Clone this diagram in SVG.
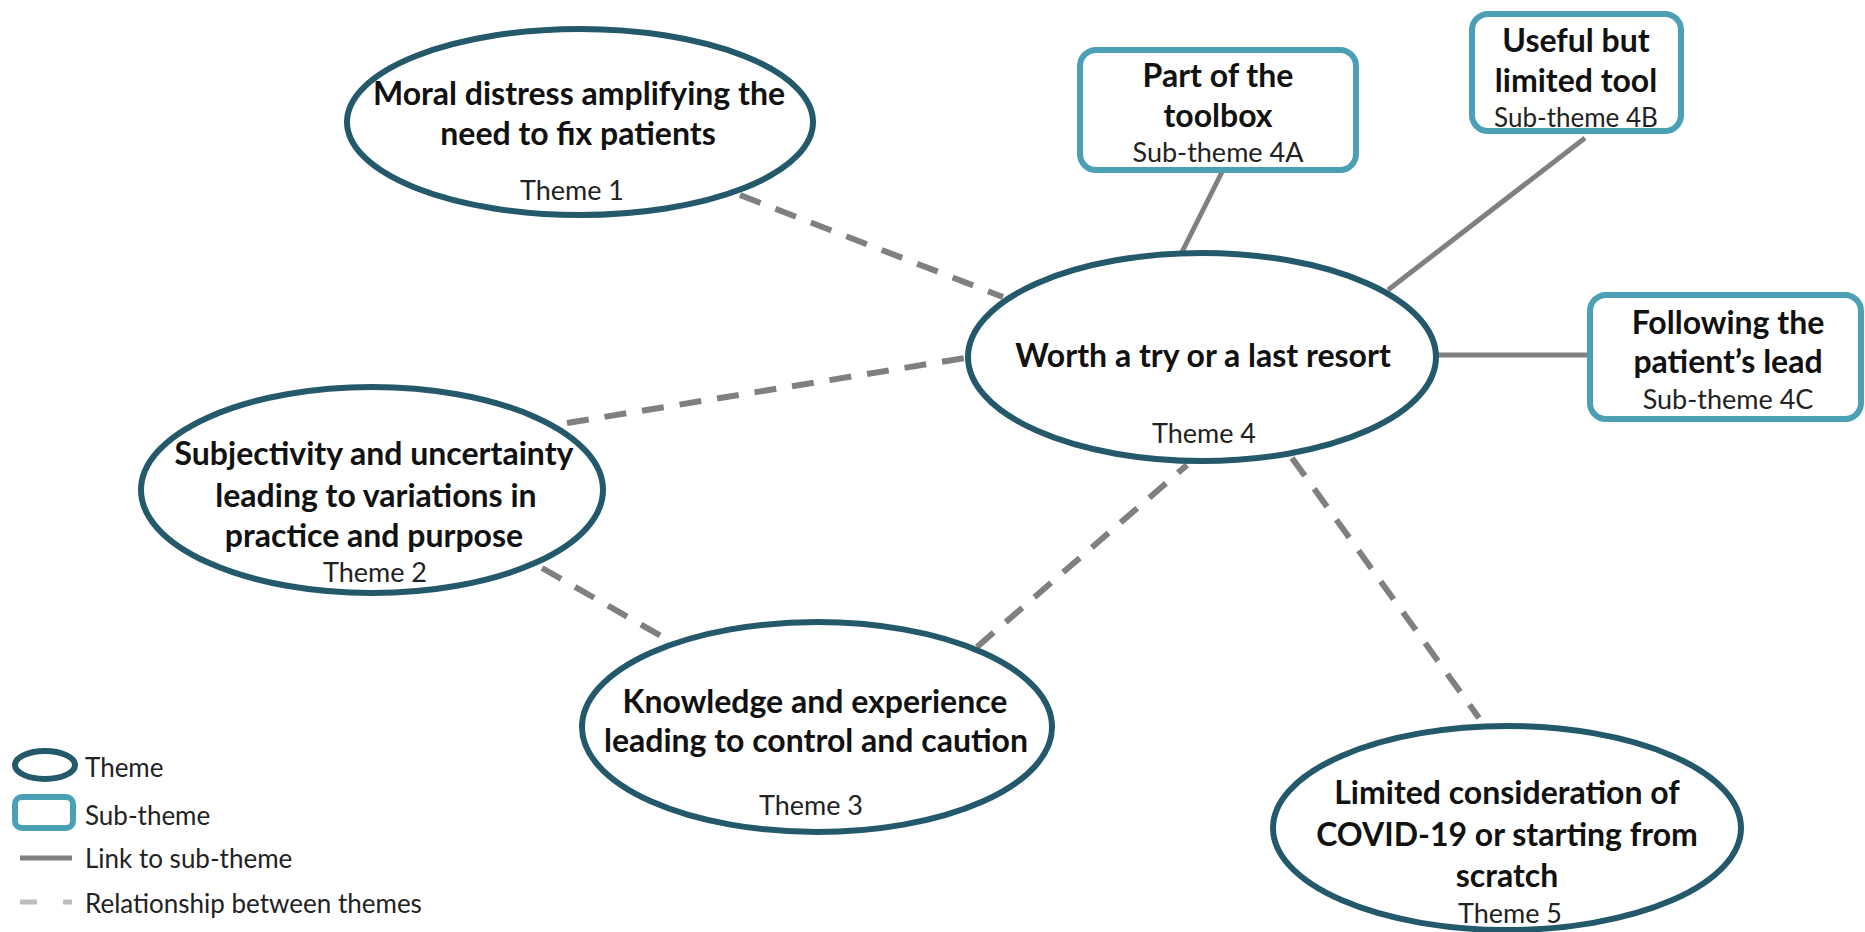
<svg xmlns="http://www.w3.org/2000/svg" width="1865" height="932" viewBox="0 0 1865 932">
  <style>
    .theme { fill: #ffffff; stroke: #23596a; stroke-width: 6; }
    .sub { fill: #ffffff; stroke: #4ba0b6; stroke-width: 6; }
    .link { stroke: #808080; stroke-width: 5; fill: none; }
    .rel { stroke: #808080; stroke-width: 6; fill: none; stroke-dasharray: 22 16; }
    .title { font-family: Lato, "Liberation Sans", sans-serif; font-weight: bold; font-size: 32px; fill: #111111; text-anchor: middle; }
    .label { font-family: Lato, "Liberation Sans", sans-serif; font-size: 27px; fill: #222222; text-anchor: middle; }
    .legend { font-family: Lato, "Liberation Sans", sans-serif; font-size: 26px; fill: #222222; }
  </style>
  <rect width="1865" height="932" fill="#ffffff"/>

  <!-- connectors: solid links to sub-themes, dashed relationships between themes -->
  <g id="connectors">
    <line class="rel" x1="740" y1="195" x2="1003" y2="297"/>
    <line class="rel" x1="567" y1="423" x2="965" y2="358"/>
    <line class="rel" x1="542" y1="568" x2="668" y2="640"/>
    <line class="rel" x1="977" y1="647" x2="1187" y2="465"/>
    <line class="rel" x1="1292" y1="458" x2="1479" y2="718"/>
    <line class="link" x1="1182" y1="252" x2="1222" y2="172"/>
    <line class="link" x1="1388" y1="290" x2="1585" y2="138"/>
    <line class="link" x1="1437" y1="355" x2="1590" y2="355"/>
  </g>

  <g id="theme1">
    <ellipse class="theme" cx="580" cy="122" rx="233" ry="93"/>
    <text class="title" x="579" y="105">Moral distress amplifying the</text>
    <text class="title" x="578" y="145">need to fix patients</text>
    <text class="label" x="572" y="200">Theme 1</text>
  </g>

  <g id="theme2">
    <ellipse class="theme" cx="372" cy="490" rx="231" ry="103"/>
    <text class="title" x="374" y="465">Subjectivity and uncertainty</text>
    <text class="title" x="376" y="507">leading to variations in</text>
    <text class="title" x="374" y="547">practice and purpose</text>
    <text class="label" x="375" y="582">Theme 2</text>
  </g>

  <g id="theme3">
    <ellipse class="theme" cx="817" cy="727" rx="235" ry="105"/>
    <text class="title" x="815" y="713">Knowledge and experience</text>
    <text class="title" x="816" y="752">leading to control and caution</text>
    <text class="label" x="811" y="815">Theme 3</text>
  </g>

  <g id="theme4">
    <ellipse class="theme" cx="1202" cy="357" rx="234" ry="104"/>
    <text class="title" x="1203" y="367">Worth a try or a last resort</text>
    <text class="label" x="1204" y="443">Theme 4</text>
  </g>

  <g id="theme5">
    <ellipse class="theme" cx="1507" cy="828" rx="234" ry="102"/>
    <text class="title" x="1507" y="804">Limited consideration of</text>
    <text class="title" x="1507" y="846">COVID-19 or starting from</text>
    <text class="title" x="1507" y="887">scratch</text>
    <text class="label" x="1510" y="923">Theme 5</text>
  </g>

  <g id="sub4a">
    <rect class="sub" x="1080" y="50" width="276" height="120" rx="16"/>
    <text class="title" x="1218" y="87">Part of the</text>
    <text class="title" x="1218" y="127">toolbox</text>
    <text class="label" x="1218" y="162">Sub-theme 4A</text>
  </g>

  <g id="sub4b">
    <rect class="sub" x="1472" y="14" width="209" height="117" rx="16"/>
    <text class="title" x="1576" y="52">Useful but</text>
    <text class="title" x="1576" y="92">limited tool</text>
    <text class="label" x="1576" y="127" style="font-size:26px">Sub-theme 4B</text>
  </g>

  <g id="sub4c">
    <rect class="sub" x="1590" y="295" width="271" height="124" rx="16"/>
    <text class="title" x="1728" y="334">Following the</text>
    <text class="title" x="1728" y="373">patient’s lead</text>
    <text class="label" x="1728" y="409">Sub-theme 4C</text>
  </g>

  <g id="legend">
    <ellipse cx="45" cy="765" rx="30" ry="14" fill="#ffffff" stroke="#23596a" stroke-width="6"/>
    <text class="legend" x="85" y="777">Theme</text>
    <rect x="15" y="797" width="58" height="31" rx="7" fill="#ffffff" stroke="#4ba0b6" stroke-width="6"/>
    <text class="legend" x="85" y="825">Sub-theme</text>
    <line x1="20" y1="858" x2="72" y2="858" stroke="#808080" stroke-width="5"/>
    <text class="legend" x="85" y="868">Link to sub-theme</text>
    <line x1="20" y1="902" x2="72" y2="902" stroke="#bdbdbd" stroke-width="5" stroke-dasharray="17 26"/>
    <text class="legend" x="85" y="913">Relationship between themes</text>
  </g>
</svg>
